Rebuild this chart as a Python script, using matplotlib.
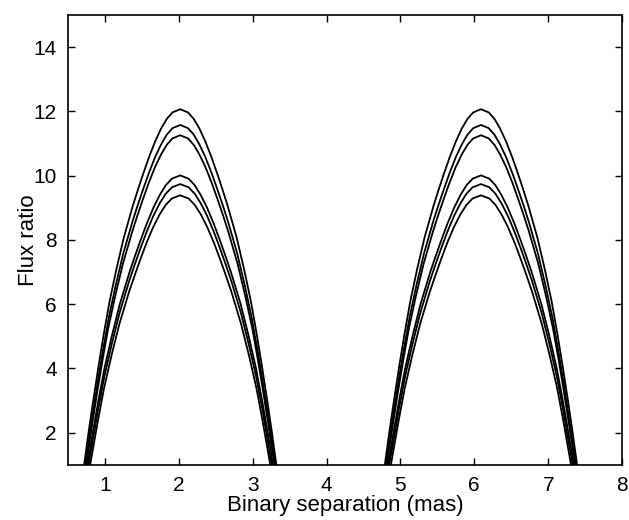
import numpy as np
import matplotlib.pyplot as plt

plt.rcParams['font.family'] = ['Liberation Sans', 'DejaVu Sans']

# centre of each hump (mas)
HUMP_CENTERS = [2.02, 6.09]

# each curve: flux ratio levels and half width of the arch at that level (mas)
Y_A1 = [12.07, 11.97, 11.77, 11.47, 11.07, 10.57, 10.07, 9.57, 9.07, 8.07, 7.07, 6.07, 5.07, 4.07, 3.07, 2.07, 1.0]
W_A1 = [0.0, 0.105, 0.182, 0.259, 0.339, 0.424, 0.500, 0.572, 0.641, 0.764, 0.866, 0.958, 1.035, 1.106, 1.173, 1.237, 1.301]

Y_A2 = [11.58, 11.48, 11.28, 10.98, 10.58, 10.08, 9.58, 9.08, 8.58, 7.58, 6.58, 5.58, 4.58, 3.58, 2.58, 1.58, 1.0]
W_A2 = [0.0, 0.105, 0.182, 0.258, 0.340, 0.425, 0.502, 0.576, 0.646, 0.771, 0.874, 0.967, 1.045, 1.117, 1.185, 1.249, 1.285]

Y_A3 = [11.26, 11.16, 10.96, 10.66, 10.26, 9.76, 9.26, 8.76, 8.26, 7.26, 6.26, 5.26, 4.26, 3.26, 2.26, 1.0]
W_A3 = [0.0, 0.106, 0.183, 0.260, 0.343, 0.429, 0.506, 0.580, 0.650, 0.776, 0.880, 0.974, 1.052, 1.124, 1.192, 1.273]

Y_B1 = [10.01, 9.91, 9.71, 9.41, 9.01, 8.51, 8.01, 7.51, 7.01, 6.01, 5.01, 4.01, 3.01, 2.01, 1.0]
W_B1 = [0.0, 0.112, 0.194, 0.275, 0.362, 0.453, 0.534, 0.611, 0.685, 0.817, 0.926, 1.025, 1.107, 1.183, 1.256]

Y_B2 = [9.74, 9.64, 9.44, 9.14, 8.74, 8.24, 7.74, 7.24, 6.74, 5.74, 4.74, 3.74, 2.74, 1.0]
W_B2 = [0.0, 0.113, 0.196, 0.278, 0.366, 0.457, 0.538, 0.615, 0.689, 0.820, 0.929, 1.028, 1.110, 1.240]

Y_B3 = [9.39, 9.29, 9.09, 8.79, 8.39, 7.89, 7.39, 6.89, 6.39, 5.39, 4.39, 3.39, 2.39, 1.0]
W_B3 = [0.0, 0.114, 0.197, 0.280, 0.368, 0.460, 0.541, 0.618, 0.692, 0.823, 0.932, 1.031, 1.113, 1.219]

CURVES = [(Y_A1, W_A1), (Y_A2, W_A2), (Y_A3, W_A3),
          (Y_B1, W_B1), (Y_B2, W_B2), (Y_B3, W_B3)]

X_TICKS = [1, 2, 3, 4, 5, 6, 7, 8]
Y_TICKS = [2, 4, 6, 8, 10, 12, 14]


def main():
    fig = plt.figure(figsize=(6.29, 5.2), dpi=100)
    ax = fig.add_axes([0.108, 0.106, 0.881, 0.865])

    for c in HUMP_CENTERS:
        for yy, ww in CURVES:
            yy = np.array(yy, dtype=float)
            ww = np.array(ww, dtype=float)
            # left flank from the bottom up, then right flank back down
            xs = np.concatenate([(c - ww)[::-1], (c + ww)[1:]])
            ys = np.concatenate([yy[::-1], yy[1:]])
            ax.plot(xs, ys, color='black', lw=1.3, solid_joinstyle='round')

    ax.set_xlim(0.5, 8)
    ax.set_ylim(1, 15)
    ax.set_xticks(X_TICKS)
    ax.set_yticks(Y_TICKS)
    ax.tick_params(direction='in', top=True, right=True, length=5,
                   width=1, labelsize=15, pad=8)
    for s in ax.spines.values():
        s.set_linewidth(1.2)

    ax.set_xlabel('Binary separation (mas)', fontsize=16, labelpad=0)
    ax.set_ylabel('Flux ratio', fontsize=16, labelpad=-4)

    fig.savefig('out.png', dpi=100)


if __name__ == "__main__":
    main()
